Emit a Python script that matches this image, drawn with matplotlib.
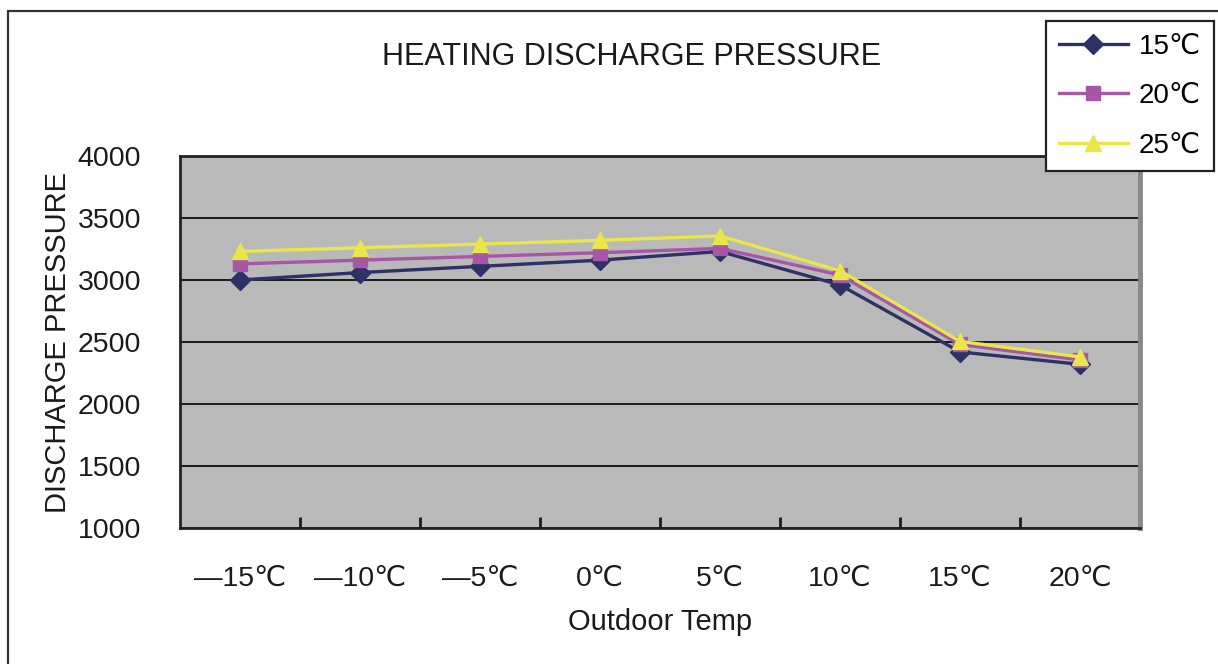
import matplotlib
matplotlib.use("Agg")
import matplotlib.pyplot as plt
from matplotlib.patches import Rectangle

plt.rcParams['font.family'] = ['Liberation Sans', 'DejaVu Sans']

# outdoor temperature categories and discharge pressure per indoor setpoint
outdoor = ["—15℃", "—10℃", "—5℃", "0℃", "5℃", "10℃", "15℃", "20℃"]
p_15 = [3000, 3060, 3110, 3160, 3230, 2960, 2420, 2320]
p_20 = [3130, 3160, 3190, 3220, 3255, 3040, 2480, 2355]
p_25 = [3230, 3260, 3290, 3320, 3355, 3075, 2505, 2380]
series_labels = ["15℃", "20℃", "25℃"]

W, H = 1218, 664
fig = plt.figure(figsize=(W / 100, H / 100), dpi=100)

# outer frame of the chart (right and bottom edges run off the canvas)
fig.patches.append(Rectangle((8 / W, -0.2), 1.2, 1.2 - 11 / H, transform=fig.transFigure,
                             fill=False, edgecolor="#333333", linewidth=1.6, zorder=0))

ax = fig.add_axes([180 / W, 1 - 528 / H, 960 / W, 372 / H])
ax.set_facecolor("#b9b9b9")

x = list(range(len(outdoor)))
ax.plot(x, p_15, color="#2e3166", lw=2.4, marker="D", ms=10.5, label=series_labels[0], zorder=3)
ax.plot(x, p_20, color="#a857a8", lw=2.4, marker="s", ms=10.5, label=series_labels[1], zorder=4)
ax.plot(x, p_25, color="#e8e64a", lw=2.4, marker="^", ms=12, label=series_labels[2], zorder=5)

ax.set_xlim(-0.5, len(outdoor) - 0.5)
ax.set_ylim(1000, 4000)
ax.set_yticks(range(1000, 4001, 500))
ax.yaxis.grid(True, color="#1a1a1a", lw=1.4)
ax.set_axisbelow(True)

ax.set_xticks(x)
ax.set_xticklabels(outdoor)
ax.set_xticks([i - 0.5 for i in range(1, len(outdoor))], minor=True)
ax.tick_params(axis="x", which="major", length=0, pad=27, labelsize=20.5, colors="#1a1a1a")
ax.tick_params(axis="x", which="minor", direction="in", length=8, width=2, color="#1a1a1a")
ax.tick_params(axis="y", length=0, pad=28, labelsize=20.5, colors="#1a1a1a")

for side in ("left", "bottom", "top"):
    ax.spines[side].set_color("#222222")
    ax.spines[side].set_linewidth(2)
ax.spines["right"].set_color("#888888")
ax.spines["right"].set_linewidth(3.5)

ax.set_xlabel("Outdoor Temp", fontsize=21, labelpad=12, color="#1a1a1a")
ax.set_ylabel("DISCHARGE PRESSURE", fontsize=21, labelpad=4, color="#1a1a1a")
fig.text(632 / W, 1 - 57 / H, "HEATING DISCHARGE PRESSURE", fontsize=22,
         ha="center", va="center", color="#1a1a1a")

leg = fig.legend(loc="upper left", bbox_to_anchor=(1046 / W, 1 - 21 / H), borderaxespad=0,
                 fontsize=20, frameon=True, fancybox=False, edgecolor="#222222", framealpha=1,
                 handlelength=2.5, handletextpad=0.4, labelspacing=0.85, borderpad=0.45)
leg.get_frame().set_linewidth(1.6)

fig.savefig("out.png", dpi=100)
